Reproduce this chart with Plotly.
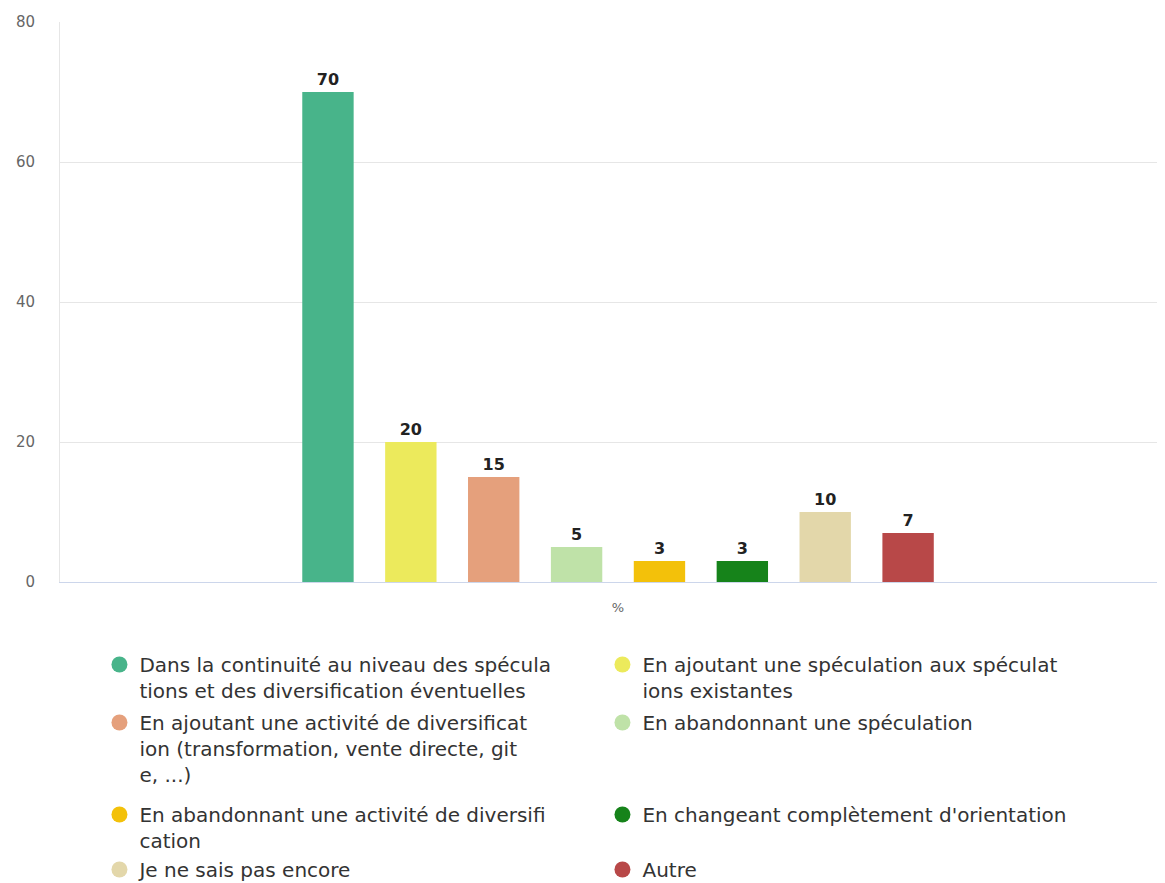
import plotly.graph_objects as go

categories = ["%"]
labels = [
    "Dans la continuité au niveau des spécula<br>tions et des diversification éventuelles",
    "En ajoutant une spéculation aux spéculat<br>ions existantes",
    "En ajoutant une activité de diversificat<br>ion (transformation, vente directe, git<br>e, ...)",
    "En abandonnant une spéculation",
    "En abandonnant une activité de diversifi<br>cation",
    "En changeant complètement d'orientation",
    "Je ne sais pas encore",
    "Autre",
]
values = [70, 20, 15, 5, 3, 3, 10, 7]
colors = ["#48b48a", "#ecea5c", "#e5a07c", "#bfe2a8", "#f3c10a", "#16831a", "#e3d7aa", "#b84848"]
y_ticks = [0, 20, 40, 60, 80]

# legend rows (two entries per row)
legend_ids = ["legend", "legend", "legend2", "legend2", "legend3", "legend3", "legend4", "legend4"]
legend_rows_y = [-0.1125, -0.2161, -0.3804, -0.4786]

fig = go.Figure()
for lab, val, col in zip(labels, values, colors):
    fig.add_trace(go.Bar(
        x=categories, y=[val], name=lab, marker=dict(color=col, line=dict(width=0)),
        text=[str(val)], textposition="outside", cliponaxis=False,
        textfont=dict(family="DejaVu Sans", size=16, color="#222222", weight="bold"),
        showlegend=False,
    ))
for lab, col, lg in zip(labels, colors, legend_ids):
    fig.add_trace(go.Scatter(
        x=[None], y=[None], mode="markers", name=lab,
        marker=dict(symbol="circle", size=18, color=col),
        showlegend=True, legend=lg,
    ))

legend_common = dict(
    orientation="h", x=0.0357, xanchor="left", yanchor="top",
    entrywidth=458, entrywidthmode="pixels",
    font=dict(family="DejaVu Sans", size=20, color="#333333"),
    valign="top", bgcolor="rgba(0,0,0,0)",
)

fig.update_layout(
    width=1157, height=875,
    margin=dict(l=52, r=0, t=14, b=301, autoexpand=False),
    paper_bgcolor="white", plot_bgcolor="white",
    barmode="group", bargap=0.4, bargroupgap=0.38,
    font=dict(family="DejaVu Sans", color="#333333"),
    xaxis=dict(
        range=[-0.505, 0.495], showgrid=False, showline=True, linecolor="#ccd6eb",
        linewidth=1, tickfont=dict(size=13, color="#666666"), ticks="", ticklabelstandoff=13,
        automargin=False,
    ),
    yaxis=dict(
        range=[0, 80], tickvals=y_ticks, showgrid=True, gridcolor="#e6e6e6",
        showline=True, linecolor="#e6e6e6", zeroline=False, automargin=False,
        tickfont=dict(size=15, color="#666666"), ticklabelstandoff=21,
    ),
    legend=dict(y=legend_rows_y[0], **legend_common),
    legend2=dict(y=legend_rows_y[1], **legend_common),
    legend3=dict(y=legend_rows_y[2], **legend_common),
    legend4=dict(y=legend_rows_y[3], **legend_common),
)

fig.write_html("out.html")
